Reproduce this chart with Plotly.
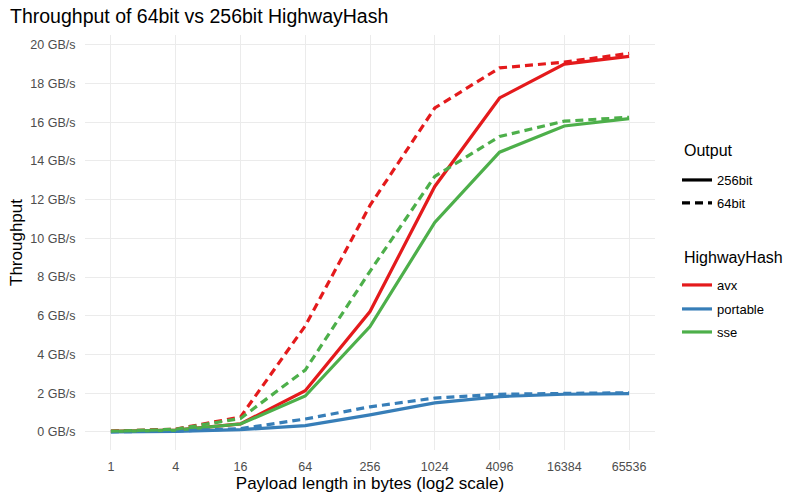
import numpy as np
import plotly.graph_objects as go

# payload sizes (bytes) and throughput in GB/s
payload = [1, 4, 16, 64, 256, 1024, 4096, 16384, 65536]

avx_256 = [0.03, 0.10, 0.42, 2.13, 6.22, 12.68, 17.25, 19.00, 19.40]
avx_64 = [0.04, 0.15, 0.77, 5.48, 11.70, 16.73, 18.80, 19.10, 19.55]
portable_256 = [0.01, 0.03, 0.12, 0.33, 0.88, 1.50, 1.83, 1.95, 1.98]
portable_64 = [0.01, 0.05, 0.17, 0.67, 1.30, 1.75, 1.95, 2.00, 2.03]
sse_256 = [0.03, 0.10, 0.41, 1.86, 5.44, 10.82, 14.45, 15.80, 16.18]
sse_64 = [0.04, 0.14, 0.70, 3.20, 8.30, 13.20, 15.26, 16.05, 16.25]

impls = ["avx", "portable", "sse"]
outputs = ["256bit", "64bit"]
colours = {"avx": "#E41A1C", "portable": "#377EB8", "sse": "#4DAF4A"}
series = {
    ("avx", "256bit"): avx_256, ("avx", "64bit"): avx_64,
    ("portable", "256bit"): portable_256, ("portable", "64bit"): portable_64,
    ("sse", "256bit"): sse_256, ("sse", "64bit"): sse_64,
}
dashes = {"256bit": "solid", "64bit": "8px,5px"}

y_ticks = list(range(0, 21, 2))
y_labels = [f"{v} GB/s" for v in y_ticks]

fig = go.Figure()

# actual lines (64bit drawn last so dashes sit on top)
for out in outputs:
    for impl in impls:
        fig.add_trace(go.Scatter(
            x=payload, y=series[(impl, out)], mode="lines",
            line=dict(color=colours[impl], width=3.2, dash=dashes[out]),
            showlegend=False, hoverinfo="x+y"))

# one small legend per key so the spacing matches ggplot's
legend_y = {"256bit": 0.6506, "64bit": 0.5952,
            "avx": 0.3976, "portable": 0.3398, "sse": 0.2843}
legend_names = {}
for i, key in enumerate(outputs + impls):
    legend_names[key] = "legend" if i == 0 else f"legend{i + 1}"

for out in outputs:
    fig.add_trace(go.Scatter(
        x=[None], y=[None], mode="lines", name=out, legend=legend_names[out],
        line=dict(color="black", width=3.2, dash=dashes[out])))
for impl in impls:
    fig.add_trace(go.Scatter(
        x=[None], y=[None], mode="lines", name=impl, legend=legend_names[impl],
        line=dict(color=colours[impl], width=3.2)))

grid = "#EBEBEB"
font = "Liberation Sans, Arial, sans-serif"
pad = 0.8 * np.log10(2)

fig.update_layout(
    width=800, height=500,
    margin=dict(l=85, r=145, t=35, b=50),
    paper_bgcolor="white", plot_bgcolor="white",
    font=dict(family=font, size=14, color="black"),
    title=dict(text="Throughput of 64bit vs 256bit HighwayHash",
               x=0.0125, xanchor="left", xref="container",
               y=0.968, yanchor="middle", yref="container",
               font=dict(size=19.5)),
    xaxis=dict(
        type="log", range=[-pad, np.log10(65536) + pad],
        tickvals=payload, ticktext=[str(p) for p in payload],
        showgrid=True, gridcolor=grid, gridwidth=1.2, zeroline=False,
        ticks="outside", ticklen=5, tickcolor="white", automargin=False,
        tickfont=dict(size=12.5, color="#4D4D4D"),
        title=dict(text="Payload length in bytes (log2 scale)", standoff=3)),
    yaxis=dict(
        range=[-0.93, 20.5],
        tickvals=y_ticks, ticktext=y_labels,
        showgrid=True, gridcolor=grid, gridwidth=1.2, zeroline=False,
        ticks="outside", ticklen=6, tickcolor="white", automargin=False,
        tickfont=dict(size=12.5, color="#4D4D4D"),
        title=dict(text="Throughput", standoff=3)),
    annotations=[
        dict(text="Output", x=1.047, y=0.7205, xref="paper", yref="paper",
             xanchor="left", yanchor="middle", showarrow=False,
             font=dict(size=16)),
        dict(text="HighwayHash", x=1.047, y=0.465, xref="paper", yref="paper",
             xanchor="left", yanchor="middle", showarrow=False,
             font=dict(size=16)),
    ],
)

for key, name in legend_names.items():
    fig.update_layout({name: dict(
        x=1.0386, xanchor="left", y=legend_y[key], yanchor="middle",
        font=dict(size=13), itemwidth=30, bgcolor="rgba(0,0,0,0)")})

# drop the browser's default 8px body margin so the figure sits at 0,0
fig.write_html("out.html", config={"displayModeBar": False},
               post_script="document.body.style.margin = '0';")
